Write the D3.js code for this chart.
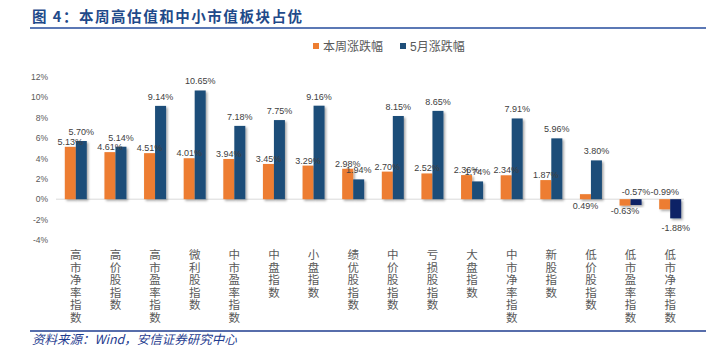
<!DOCTYPE html>
<html><head><meta charset="utf-8">
<script src="https://cdn.jsdelivr.net/npm/d3@7"></script>
<style>
html,body{margin:0;padding:0;background:#fff;}
svg{display:block;}
text{font-family:"Liberation Sans","Noto Sans CJK SC",sans-serif;}
.cjk{font-family:"Noto Sans CJK SC",sans-serif;}
</style></head>
<body>
<svg id="chart" width="712" height="357"></svg>
<script>
const categories = ["高市净率指数","高价股指数","高市盈率指数","微利股指数","中市盈率指数","中盘指数","小盘指数","绩优股指数","中价股指数","亏损股指数","大盘指数","中市净率指数","新股指数","低价股指数","低市盈率指数","低市净率指数"];
const weekChange = [5.13,4.61,4.51,4.01,3.94,3.45,3.29,2.98,2.70,2.52,2.36,2.34,1.87,0.49,-0.63,-0.99];
const mayChange  = [5.70,5.14,9.14,10.65,7.18,7.75,9.16,1.94,8.15,8.65,1.74,7.91,5.96,3.80,-0.57,-1.88];
const seriesNames = ["本周涨跌幅","5月涨跌幅"];
const yTicks = [-4,-2,0,2,4,6,8,10,12];
const titleText = "图 4：本周高估值和中小市值板块占优";
const sourceText = "资料来源：Wind，安信证券研究中心";

const svg = d3.select("#chart");
const C = {orange:"#ED7D31", blue:"#1F4E79", neg:"#0B2466", grid:"#D9D9D9", text:"#595959", label:"#404040"};

// shadow filter
const defs = svg.append("defs");
const f = defs.append("filter").attr("id","sh").attr("x","-20%").attr("y","-20%").attr("width","160%").attr("height","160%");
f.append("feDropShadow").attr("dx",1.6).attr("dy",1.6).attr("stdDeviation",1).attr("flood-color","#000").attr("flood-opacity",0.35);

// title
svg.append("text").attr("class","cjk").attr("x",32).attr("y",22)
  .attr("font-size",14.5).attr("font-weight","bold").attr("fill","#1F4A8A")
  .attr("textLength",270).attr("lengthAdjust","spacing").text(titleText);
svg.append("line").attr("x1",30).attr("x2",706).attr("y1",28).attr("y2",28)
  .attr("stroke","#5B78B5").attr("stroke-width",2);

// scales
const y = d3.scaleLinear().domain([-4,12]).range([240,76.7]);
const x = d3.scaleBand().domain(categories).range([56,690]).padding(0);
const xs = d3.scaleBand().domain([0,1]).range([0,22]);
const barOff = x.bandwidth()/2 - 11;

// y axis labels
const yAxis = d3.axisLeft(y).tickValues(yTicks).tickFormat(d=>d+"%").tickSize(0).tickPadding(0);
const ga = svg.append("g").attr("transform","translate(48,0)").call(yAxis);
ga.select(".domain").remove();
ga.selectAll("text").attr("font-size",8.5).attr("fill",C.text).attr("font-family","Liberation Sans, sans-serif");

// zero line
svg.append("line").attr("x1",56).attr("x2",684).attr("y1",y(0)).attr("y2",y(0))
  .attr("stroke",C.grid).attr("stroke-width",1);

// bars
const series = [weekChange, mayChange];
const bars = svg.append("g");
series.forEach((vals,si)=>{
  bars.selectAll(".b"+si).data(vals).enter().append("rect")
    .attr("x",(d,i)=>x(categories[i])+barOff+xs(si))
    .attr("width",xs.bandwidth())
    .attr("y",d=>y(Math.max(0,d)))
    .attr("height",d=>Math.abs(y(d)-y(0)))
    .attr("fill",d=> si===0 ? C.orange : (d<0 ? C.neg : C.blue))
    .attr("filter","url(#sh)");
});

// data labels
const lbl = svg.append("g").attr("font-size",9).attr("fill",C.label).attr("text-anchor","middle");
categories.forEach((c,i)=>{
  const w = weekChange[i], m = mayChange[i];
  [[w,0],[m,1]].forEach(([v,si])=>{
    const cx = x(c)+barOff+xs(si)+xs.bandwidth()/2;
    let yy;
    if (v >= 0) {
      if (si===0 && v < 1) yy = y(0) + 10;
      else yy = y(v) - (si===0 ? 2 : 6);
    } else {
      const other = si===0 ? m : w;
      if (other < 0 && v > other) yy = y(0) - 4;      // less negative: above zero line
      else yy = y(v) + (si===0 ? 8 : 13);            // most negative: below bar
    }
    lbl.append("text").attr("x",cx).attr("y",yy).text(v.toFixed(2)+"%");
  });
});

// category labels (one character per line)
const cl = svg.append("g").attr("class","cjk").attr("font-size",11.5).attr("fill",C.text).attr("text-anchor","middle");
categories.forEach((c,i)=>{
  Array.from(c).forEach((ch,k)=>{
    cl.append("text").attr("x",x(c)+x.bandwidth()/2).attr("y",259+k*12.6).text(ch);
  });
});

// legend
const lg = svg.append("g").attr("class","cjk").attr("font-size",12).attr("fill",C.text);
[[313,C.orange,seriesNames[0]],[400,C.blue,seriesNames[1]]].forEach(([lx,col,name])=>{
  lg.append("rect").attr("x",lx).attr("y",43).attr("width",6).attr("height",6).attr("fill",col);
  lg.append("text").attr("x",lx+10).attr("y",50.5).text(name);
});

// bottom line & source
svg.append("line").attr("x1",30).attr("x2",706).attr("y1",331).attr("y2",331)
  .attr("stroke","#1F3C8F").attr("stroke-width",1.5);
svg.append("text").attr("class","cjk").attr("x",32).attr("y",344)
  .attr("font-size",12.5).attr("font-style","italic").attr("fill","#1F3C8F").text(sourceText);
</script>
</body></html>
